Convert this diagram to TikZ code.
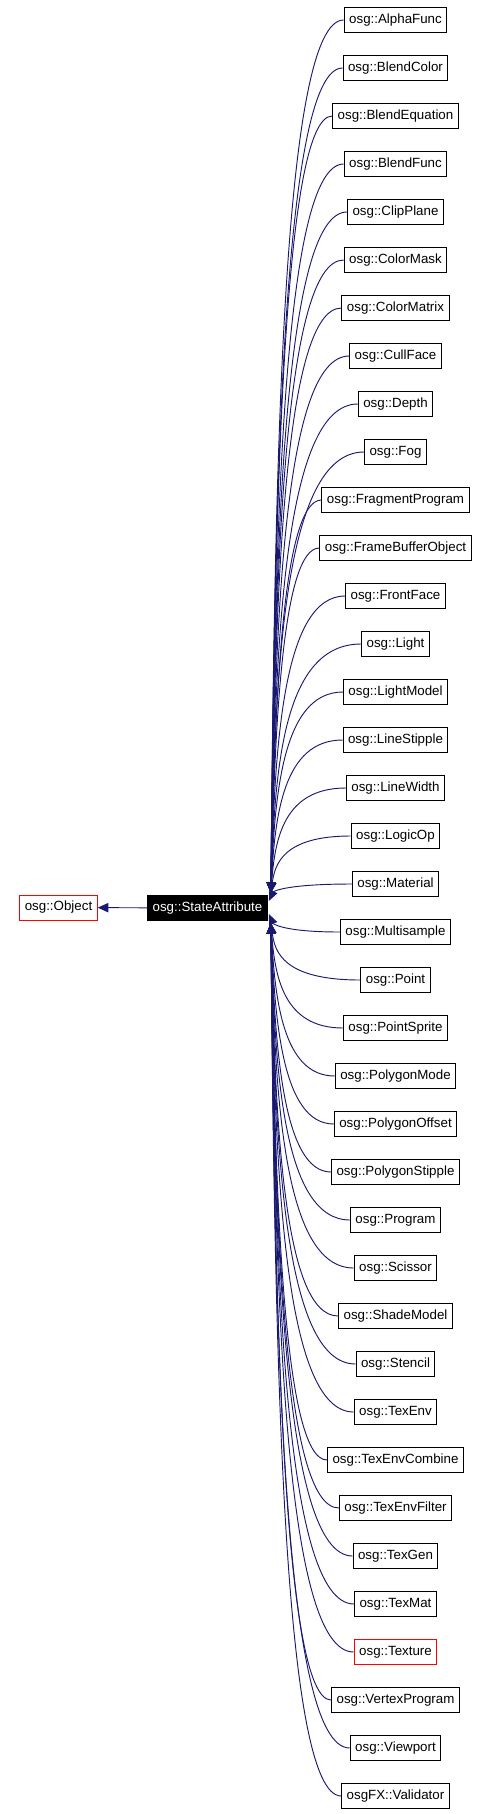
\documentclass[tikz,border=0pt]{standalone}
\usepackage{fontspec}
\setmainfont{Liberation Sans}
\usepackage{tikz}
\usetikzlibrary{calc, arrows.meta}

\definecolor{edgeblue}{HTML}{191970}

\tikzset{
  cls/.style={draw=black, fill=white, line width=0.75pt, inner xsep=3.75pt, inner ysep=0pt,
    minimum height=18.75pt, font=\fontsize{10pt}{12pt}\selectfont},
  undoc/.style={cls, draw=red},
  focus/.style={cls, fill=black, text=white},
  inherit/.style={draw=edgeblue, line width=0.7pt, {Triangle[length=8pt,width=6.5pt]}-,
    to path={let \p1=(\tikztostart), \p2=(\tikztotarget) in
      .. controls (\x1+3pt,{(\y1+\y2)/2}) and (\x1+9pt,\y2) .. (\tikztotarget)}}
}

\begin{document}
\begin{tikzpicture}[x=0.75pt, y=-0.75pt]
    \useasboundingbox (0,0) rectangle (491,1814);

    % Base classes
    \node[undoc] (object) at (58.5,907.5) {osg::Object};
    \node[focus] (sa) at (207.5,908) {osg::StateAttribute};

    % Arrow entry points on the StateAttribute box
    \coordinate (in up) at ([shift={(3,-2)}]sa.north east);
    \coordinate (in mid up) at ([shift={(1,-7)}]sa.east);
    \coordinate (in mid down) at ([shift={(1,6)}]sa.east);
    \coordinate (in down) at ([shift={(3,2)}]sa.south east);

    % Derived classes
    \node[cls] (alphafunc) at (395.5,20) {osg::AlphaFunc};
    \node[cls] (blendcolor) at (395.5,68) {osg::BlendColor};
    \node[cls] (blendequation) at (395.5,116) {osg::BlendEquation};
    \node[cls] (blendfunc) at (395.5,164) {osg::BlendFunc};
    \node[cls] (clipplane) at (395.5,212) {osg::ClipPlane};
    \node[cls] (colormask) at (395.5,260) {osg::ColorMask};
    \node[cls] (colormatrix) at (395.5,308) {osg::ColorMatrix};
    \node[cls] (cullface) at (395.5,356) {osg::CullFace};
    \node[cls] (depth) at (395.5,404) {osg::Depth};
    \node[cls] (fog) at (395.5,452) {osg::Fog};
    \node[cls] (fragmentprogram) at (395.5,500) {osg::FragmentProgram};
    \node[cls] (framebufferobject) at (395.5,548) {osg::FrameBufferObject};
    \node[cls] (frontface) at (395.5,596) {osg::FrontFace};
    \node[cls] (light) at (395.5,644) {osg::Light};
    \node[cls] (lightmodel) at (395.5,692) {osg::LightModel};
    \node[cls] (linestipple) at (395.5,740) {osg::LineStipple};
    \node[cls] (linewidth) at (395.5,788) {osg::LineWidth};
    \node[cls] (logicop) at (395.5,836) {osg::LogicOp};
    \node[cls] (material) at (395.5,884) {osg::Material};
    \node[cls] (multisample) at (395.5,932) {osg::Multisample};
    \node[cls] (point) at (395.5,980) {osg::Point};
    \node[cls] (pointsprite) at (395.5,1028) {osg::PointSprite};
    \node[cls] (polygonmode) at (395.5,1076) {osg::PolygonMode};
    \node[cls] (polygonoffset) at (395.5,1124) {osg::PolygonOffset};
    \node[cls] (polygonstipple) at (395.5,1172) {osg::PolygonStipple};
    \node[cls] (program) at (395.5,1220) {osg::Program};
    \node[cls] (scissor) at (395.5,1268) {osg::Scissor};
    \node[cls] (shademodel) at (395.5,1316) {osg::ShadeModel};
    \node[cls] (stencil) at (395.5,1364) {osg::Stencil};
    \node[cls] (texenv) at (395.5,1412) {osg::TexEnv};
    \node[cls] (texenvcombine) at (395.5,1460) {osg::TexEnvCombine};
    \node[cls] (texenvfilter) at (395.5,1508) {osg::TexEnvFilter};
    \node[cls] (texgen) at (395.5,1556) {osg::TexGen};
    \node[cls] (texmat) at (395.5,1604) {osg::TexMat};
    \node[undoc] (texture) at (395.5,1652) {osg::Texture};
    \node[cls] (vertexprogram) at (395.5,1700) {osg::VertexProgram};
    \node[cls] (viewport) at (395.5,1748) {osg::Viewport};
    \node[cls] (validator) at (395.5,1796) {osgFX::Validator};

    % StateAttribute -> Object
    \draw[draw=edgeblue, line width=0.7pt, -{Triangle[length=8pt,width=7pt]}] (sa) -- (object);

    % Inheritance edges, upper half
    \draw[inherit] (in up) to (alphafunc.west);
    \draw[inherit] (in up) to (blendcolor.west);
    \draw[inherit] (in up) to (blendequation.west);
    \draw[inherit] (in up) to (blendfunc.west);
    \draw[inherit] (in up) to (clipplane.west);
    \draw[inherit] (in up) to (colormask.west);
    \draw[inherit] (in up) to (colormatrix.west);
    \draw[inherit] (in up) to (cullface.west);
    \draw[inherit] (in up) to (depth.west);
    \draw[inherit] (in up) to (fog.west);
    \draw[inherit] (in up) to (fragmentprogram.west);
    \draw[inherit] (in up) to (framebufferobject.west);
    \draw[inherit] (in up) to (frontface.west);
    \draw[inherit] (in up) to (light.west);
    \draw[inherit] (in up) to (lightmodel.west);
    \draw[inherit] (in up) to (linestipple.west);
    \draw[inherit] (in up) to (linewidth.west);
    \draw[inherit] (in up) to (logicop.west);
    \draw[inherit] (in mid up) to (material.west);

    % Inheritance edges, lower half
    \draw[inherit] (in mid down) to (multisample.west);
    \draw[inherit] (in down) to (point.west);
    \draw[inherit] (in down) to (pointsprite.west);
    \draw[inherit] (in down) to (polygonmode.west);
    \draw[inherit] (in down) to (polygonoffset.west);
    \draw[inherit] (in down) to (polygonstipple.west);
    \draw[inherit] (in down) to (program.west);
    \draw[inherit] (in down) to (scissor.west);
    \draw[inherit] (in down) to (shademodel.west);
    \draw[inherit] (in down) to (stencil.west);
    \draw[inherit] (in down) to (texenv.west);
    \draw[inherit] (in down) to (texenvcombine.west);
    \draw[inherit] (in down) to (texenvfilter.west);
    \draw[inherit] (in down) to (texgen.west);
    \draw[inherit] (in down) to (texmat.west);
    \draw[inherit] (in down) to (texture.west);
    \draw[inherit] (in down) to (vertexprogram.west);
    \draw[inherit] (in down) to (viewport.west);
    \draw[inherit] (in down) to (validator.west);

\end{tikzpicture}
\end{document}
